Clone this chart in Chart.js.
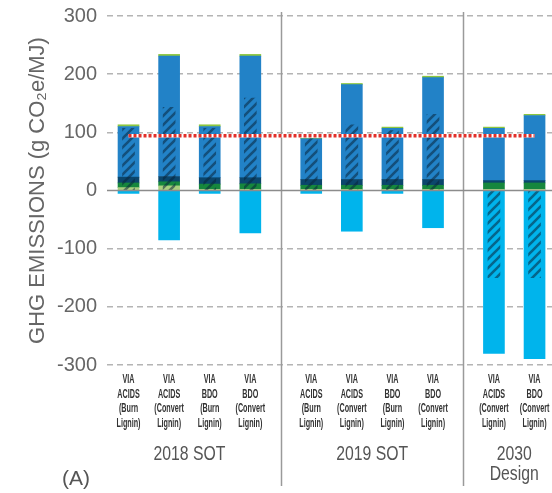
<!DOCTYPE html>
<html><head><meta charset="utf-8">
<script src="https://cdn.jsdelivr.net/npm/chart.js@4/dist/chart.umd.min.js"></script>
<style>html,body{margin:0;padding:0;background:#fff}#wrap{width:552px;height:493px;position:relative}</style>
</head><body><div id="wrap"><canvas id="c" width="552" height="493"></canvas></div>
<script>
// ---------------- data ----------------
const categories = [
  ["VIA","ACIDS","(Burn","Lignin)"],
  ["VIA","ACIDS","(Convert","Lignin)"],
  ["VIA","BDO","(Burn","Lignin)"],
  ["VIA","BDO","(Convert","Lignin)"],
  ["VIA","ACIDS","(Burn","Lignin)"],
  ["VIA","ACIDS","(Convert","Lignin)"],
  ["VIA","BDO","(Burn","Lignin)"],
  ["VIA","BDO","(Convert","Lignin)"],
  ["VIA","ACIDS","(Convert","Lignin)"],
  ["VIA","BDO","(Convert","Lignin)"]
];
const groupLabels = ["2018 SOT", "2019 SOT", ["2030", "Design"]];
const groupOf = [0,0,0,0,1,1,1,1,2,2];

const limeBase  = [5, 8, 2, 2, 2, 2, 2, 2, 2, 2];
const greenPart = [8, 7, 9, 9.5, 7, 7, 7, 7, 11, 11];
const navyPart  = [10, 9, 11, 10.5, 10, 10, 10, 10, 4, 4];
const bluePart  = [87, 207, 88, 209, 70, 163, 88, 175, 90, 112];
const limeCap   = [3, 3, 3, 3, 1, 2, 2, 2.5, 2, 2];
const negative  = [-5, -85, -5, -73, -5, -70, -5, -64, -280, -289];
const hatched   = [107, 143, 107, 159, 89, 113, 103, 131, -150, -150];
const baseline  = 94;
const yTickValues = [-300, -200, -100, 0, 100, 200, 300];

// ---------------- layout helpers ----------------
const GROUP_GAP = 0.5;
const xPos = groupOf.map((g, i) => i + g * GROUP_GAP);
const groupCenters = groupLabels.map((_, g) => {
  const xs = xPos.filter((_, i) => groupOf[i] === g);
  return (Math.min(...xs) + Math.max(...xs)) / 2;
});
const separators = [];
for (let i = 1; i < xPos.length; i++) {
  if (groupOf[i] !== groupOf[i-1]) separators.push((xPos[i] + xPos[i-1]) / 2);
}

const REG = "'Liberation Sans', Arial, sans-serif";

function makeHatch() {
  const s = 9;
  const c = document.createElement('canvas');
  c.width = s; c.height = s;
  const g = c.getContext('2d');
  g.strokeStyle = 'rgba(10,38,60,0.55)';
  g.lineWidth = 2.6;
  g.beginPath();
  for (const k of [-s, 0, s]) { g.moveTo(k - 1, s + 1); g.lineTo(k + s + 1, -1); }
  g.stroke();
  return g.createPattern(c, 'repeat');
}
const hatchPattern = makeHatch();

const pts = arr => arr.map((v, i) => ({x: xPos[i], y: v}));
const barBase = {type: 'bar', grouped: false, barThickness: 21, borderWidth: 0, stack: 'main', order: 2};

const datasets = [
  {...barBase, label: 'a', data: pts(limeBase), backgroundColor: '#a9cf7e'},
  {...barBase, label: 'b', data: pts(greenPart), backgroundColor: '#16873d'},
  {...barBase, label: 'c', data: pts(navyPart), backgroundColor: '#0b466c'},
  {...barBase, label: 'd', data: pts(bluePart), backgroundColor: '#2282c7'},
  {...barBase, label: 'e', data: pts(limeCap), backgroundColor: '#8cc63f'},
  {...barBase, label: 'f', data: pts(negative), backgroundColor: '#00b4ec'},
  {...barBase, label: 'h', data: pts(hatched), backgroundColor: hatchPattern, barThickness: 12, stack: 'hatch', order: 1},
  {type: 'line', label: 'bw', data: [{x: xPos[0], y: baseline}, {x: xPos[xPos.length-1], y: baseline}],
   borderColor: '#ffffff', borderWidth: 3.5, pointRadius: 0, stack: 'l1', order: 0},
  {type: 'line', label: 'br', data: [{x: xPos[0], y: baseline}, {x: xPos[xPos.length-1], y: baseline}],
   borderColor: '#e2302a', borderWidth: 3.5, borderDash: [3, 2], pointRadius: 0, stack: 'l2', order: -1}
];

function condensedText(ctx, text, x, y, sx) {
  ctx.save();
  ctx.translate(x, y);
  ctx.scale(sx, 1);
  ctx.fillText(text, 0, 0);
  ctx.restore();
}

const extras = {
  id: 'extras',
  beforeDatasetsDraw(chart) {
    const ctx = chart.ctx, xs = chart.scales.x;
    ctx.save();
    ctx.strokeStyle = '#9a9a9a';
    ctx.lineWidth = 1.5;
    for (const s of separators) {
      const px = Math.round(xs.getPixelForValue(s)) + 0.5;
      ctx.beginPath(); ctx.moveTo(px, 12); ctx.lineTo(px, 486); ctx.stroke();
    }
    ctx.restore();
  },
  afterDatasetsDraw(chart) {
    const ctx = chart.ctx, ys = chart.scales.y, a = chart.chartArea;
    const py = ys.getPixelForValue(0);
    ctx.save();
    ctx.strokeStyle = '#8c8c8c';
    ctx.lineWidth = 1.5;
    ctx.beginPath(); ctx.moveTo(a.left, py); ctx.lineTo(a.right, py); ctx.stroke();
    ctx.restore();
  },
  afterDraw(chart) {
    const ctx = chart.ctx, xs = chart.scales.x, a = chart.chartArea;
    ctx.save();
    ctx.textBaseline = 'middle';
    ctx.textAlign = 'center';
    // category labels (condensed)
    ctx.fillStyle = '#333';
    ctx.font = "bold 12px " + REG;
    categories.forEach((lines, i) => {
      const px = xs.getPixelForValue(xPos[i]);
      lines.forEach((t, j) => condensedText(ctx, t, px, a.bottom + 15 + j * 14.5, 0.6));
    });
    // group labels
    ctx.fillStyle = '#555';
    ctx.font = "19.5px " + REG;
    groupLabels.forEach((lab, g) => {
      const px = xs.getPixelForValue(groupCenters[g]);
      const lines = Array.isArray(lab) ? lab : [lab];
      lines.forEach((t, j) => condensedText(ctx, t, px, a.bottom + 90 + j * 20, 0.81));
    });
    // panel letter
    ctx.textAlign = 'left';
    ctx.font = "21px " + REG;
    ctx.fillText('(A)', 62, 479);
    ctx.restore();
  }
};

new Chart(document.getElementById('c'), {
  type: 'bar',
  data: {datasets},
  options: {
    responsive: false,
    animation: false,
    events: [],
    layout: {padding: {top: 16, left: 0, right: 0, bottom: 128}},
    plugins: {legend: {display: false}, tooltip: {enabled: false}},
    scales: {
      x: {
        type: 'linear', min: -0.53, max: 10.43, offset: false, display: false,
        grid: {display: false, offset: false}
      },
      y: {
        stacked: true, min: -300, max: 300,
        afterBuildTicks: s => { s.ticks = yTickValues.map(v => ({value: v})); },
        afterFit: s => { s.width = 107; s.paddingTop = 0; s.paddingBottom = 0; },
        grid: {
          drawTicks: false,
          color: c => (c.tick && c.tick.value === 0) ? 'rgba(0,0,0,0)' : '#b4b4b4',
          lineWidth: 1.5
        },
        border: {display: false, dash: [6, 4]},
        ticks: {padding: 10, color: '#666', font: {family: REG, size: 20}},
        title: {display: true, text: 'GHG EMISSIONS (g CO\u2082e/MJ)', color: '#666',
                font: {family: REG, size: 22}, padding: {top: 25, bottom: 0}}
      }
    }
  },
  plugins: [extras]
});
</script></body></html>
